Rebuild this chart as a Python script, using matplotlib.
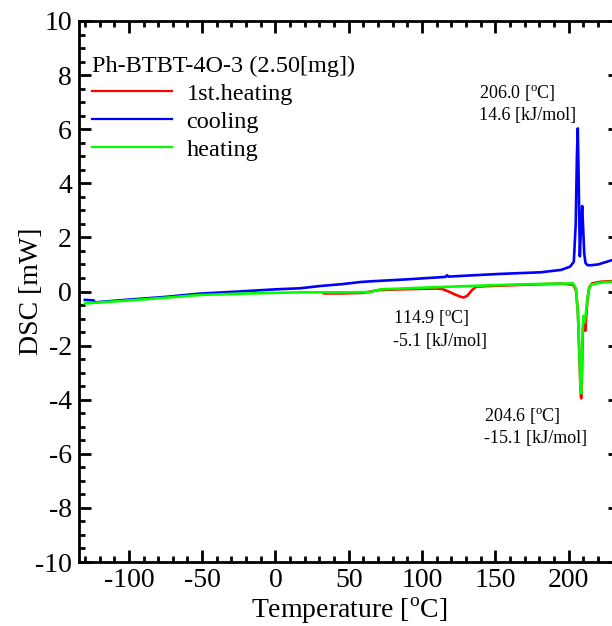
import matplotlib
matplotlib.use("Agg")
import matplotlib.pyplot as plt
from matplotlib.ticker import MultipleLocator

plt.rcParams["font.family"] = ["Liberation Serif", "DejaVu Serif"]
plt.rcParams["mathtext.fontset"] = "custom"
plt.rcParams["mathtext.rm"] = "Liberation Serif"
plt.rcParams["axes.unicode_minus"] = False

# ---- data ----
heat1_T = [33, 45, 60, 70, 85, 100, 110, 114, 118, 122, 126, 128.5, 131, 134, 137, 145,
           170, 195, 203, 205, 206.3, 207.3, 208, 208.5, 209.0, 209.7, 210.3, 210.8, 211.3,
           212.0, 212.8, 214, 216, 222, 235]
heat1_mW = [-0.07, -0.07, -0.05, 0.05, 0.08, 0.1, 0.11, 0.09, 0.0, -0.1, -0.19, -0.22, -0.15,
            0.05, 0.18, 0.2, 0.25, 0.29, 0.25, 0.05, -0.8, -2.4, -3.5, -3.95, -3.1, -1.4,
            -1.05, -1.2, -1.45, -0.9, -0.3, 0.15, 0.3, 0.36, 0.4]

cool_T = [-130, -124, -123, -100, -75, -52, -25, 0, 17, 30, 45, 58, 63, 90, 116, 117, 118,
          135, 153, 181, 195, 201, 203.5, 204.8, 205.6, 206.2, 206.8, 207.6, 208.4, 209.2,
          209.9, 210.6, 211.5, 213, 215, 220, 229, 235]
cool_mW = [-0.31, -0.33, -0.4, -0.3, -0.2, -0.08, 0.0, 0.08, 0.12, 0.2, 0.27, 0.35, 0.37,
           0.45, 0.54, 0.6, 0.55, 0.6, 0.65, 0.71, 0.8, 0.92, 1.1, 2.5, 5.0, 6.03, 4.2, 1.3,
           2.4, 3.16, 2.3, 1.4, 1.05, 0.97, 0.97, 1.0, 1.15, 1.25]

heat2_T = [-130, -100, -75, -52, -25, 0, 17, 30, 50, 65, 68, 72, 100, 125, 153, 181, 203,
           205, 206.3, 207.3, 208, 208.5, 209.0, 209.5, 210.0, 210.6, 211.5, 212.5, 213.5,
           215, 222, 235]
heat2_mW = [-0.44, -0.33, -0.23, -0.13, -0.08, -0.05, -0.03, -0.03, -0.03, -0.02, 0.03, 0.08,
            0.14, 0.19, 0.24, 0.28, 0.3, 0.1, -0.8, -2.3, -3.4, -3.76, -2.9, -1.5, -0.9,
            -1.15, -0.9, -0.4, 0.0, 0.25, 0.33, 0.38]

series = [("1st.heating", heat1_T, heat1_mW, "#ff0000"),
          ("cooling", cool_T, cool_mW, "#0000ff"),
          ("heating", heat2_T, heat2_mW, "#00ff00")]

notes = [(138.5, 7.7, "206.0 [$^{\\mathrm{o}}$C]\n14.6 [kJ/mol]"),
         (80.5, -0.65, "114.9 [$^{\\mathrm{o}}$C]\n-5.1 [kJ/mol]"),
         (141.9, -4.25, "204.6 [$^{\\mathrm{o}}$C]\n-15.1 [kJ/mol]")]

# ---- figure ----
fig = plt.figure(figsize=(6.12, 6.26), dpi=100)
ax = fig.add_axes([79 / 612, 64 / 626, 541 / 612, 541 / 626])

for name, T, y, c in series:
    ax.plot(T, y, color=c, lw=1.9, label=name, solid_joinstyle="round")

for x, y, s in notes:
    ax.text(x, y, s, fontsize=13, ha="left", va="top", linespacing=1.25)

ax.set_xlim(-134, 235)
ax.set_ylim(-10, 10)
ax.xaxis.set_major_locator(MultipleLocator(50))
ax.xaxis.set_minor_locator(MultipleLocator(10))
ax.yaxis.set_major_locator(MultipleLocator(2))
ax.yaxis.set_minor_locator(MultipleLocator(0.5))
ax.tick_params(which="both", direction="in", top=True, right=True, width=2, labelsize=20)
ax.tick_params(which="major", length=8.6)
ax.tick_params(which="minor", length=4.3)
ax.tick_params(axis="y", pad=5)
ax.tick_params(axis="x", pad=4)
for sp in ax.spines.values():
    sp.set_linewidth(2)

ax.set_xlabel("Temperature [$^{\\mathrm{o}}$C]", fontsize=20, labelpad=2)
ax.set_ylabel("DSC [mW]", fontsize=20, labelpad=-6)

leg = ax.legend(title="Ph-BTBT-4O-3 (2.50[mg])", loc="upper left",
                bbox_to_anchor=(-0.008, 0.967), frameon=False, fontsize=17.5,
                title_fontsize=17.5, alignment="left", handlelength=3.3,
                handletextpad=0.6, labelspacing=0.24, borderpad=0.2)
for h in leg.get_lines():
    h.set_linewidth(1.6)

fig.savefig("out.png", dpi=100)
